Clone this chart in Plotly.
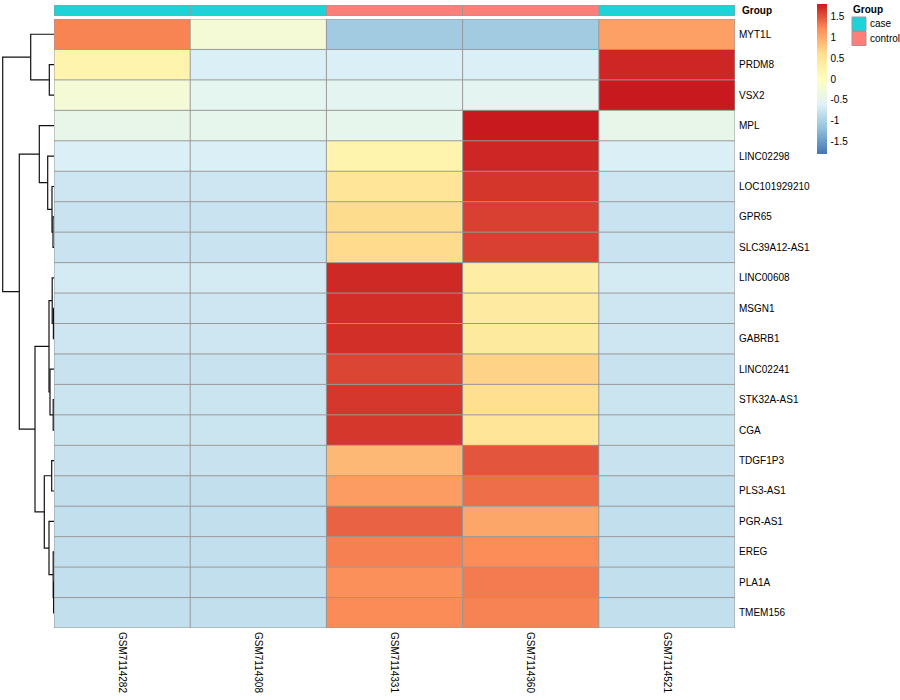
import plotly.graph_objects as go

W, H = 900, 700

samples = ["GSM7114282", "GSM7114308", "GSM7114331", "GSM7114360", "GSM7114521"]
groups = ["case", "case", "control", "control", "case"]
group_colors = {"case": "#1DD3DA", "control": "#FE7F79"}

genes = ["MYT1L", "PRDM8", "VSX2", "MPL", "LINC02298", "LOC101929210", "GPR65",
         "SLC39A12-AS1", "LINC00608", "MSGN1", "GABRB1", "LINC02241", "STK32A-AS1",
         "CGA", "TDGF1P3", "PLS3-AS1", "PGR-AS1", "EREG", "PLA1A", "TMEM156"]

z_MYT1L = [1.24, -0.23, -1.065, -1.065, 1.056]
z_PRDM8 = [0.22, -0.64, -0.64, -0.64, 1.727]
z_VSX2 = [-0.23, -0.5, -0.52, -0.52, 1.789]
z_MPL = [-0.45, -0.47, -0.47, 1.789, -0.45]
z_LINC02298 = [-0.64, -0.64, 0.22, 1.727, -0.64]
z_LOC101929210 = [-0.74, -0.74, 0.5, 1.644, -0.74]
z_GPR65 = [-0.77, -0.77, 0.625, 1.59, -0.77]
z_SLC39A12_AS1 = [-0.77, -0.77, 0.63, 1.59, -0.77]
z_LINC00608 = [-0.69, -0.69, 1.71, 0.327, -0.69]
z_MSGN1 = [-0.74, -0.74, 1.685, 0.385, -0.74]
z_GABRB1 = [-0.74, -0.74, 1.68, 0.40, -0.74]
z_LINC02241 = [-0.78, -0.78, 1.566, 0.697, -0.78]
z_STK32A_AS1 = [-0.76, -0.76, 1.64, 0.596, -0.76]
z_CGA = [-0.76, -0.76, 1.64, 0.5, -0.76]
z_TDGF1P3 = [-0.78, -0.78, 0.884, 1.483, -0.78]
z_PLS3_AS1 = [-0.82, -0.82, 1.085, 1.354, -0.82]
z_PGR_AS1 = [-0.82, -0.82, 1.416, 1.013, -0.82]
z_EREG = [-0.82, -0.82, 1.26, 1.19, -0.82]
z_PLA1A = [-0.82, -0.82, 1.17, 1.286, -0.82]
z_TMEM156 = [-0.82, -0.82, 1.20, 1.25, -0.82]

Z = [z_MYT1L, z_PRDM8, z_VSX2, z_MPL, z_LINC02298, z_LOC101929210, z_GPR65,
     z_SLC39A12_AS1, z_LINC00608, z_MSGN1, z_GABRB1, z_LINC02241, z_STK32A_AS1,
     z_CGA, z_TDGF1P3, z_PLS3_AS1, z_PGR_AS1, z_EREG, z_PLA1A, z_TMEM156]

# row dendrogram merges (left, right, height); ids >= 20 refer to earlier merges
merges = [
    (6, 7, 1.0), (5, 20, 2.0), (4, 21, 6.3), (3, 22, 14.7),
    (9, 10, 0.6), (8, 24, 1.8), (12, 13, 0.8), (11, 26, 4.0), (25, 27, 5.0),
    (14, 15, 2.3), (18, 19, 0.4), (17, 30, 0.8), (16, 31, 5.0), (29, 32, 9.7),
    (28, 33, 19.0), (23, 34, 34.7), (1, 2, 4.7), (0, 36, 23.3), (37, 35, 51.3),
]

cb_ticks = [-1.5, -1, -0.5, 0, 0.5, 1, 1.5]
zmin, zmax = -1.789, 1.789

colorscale = [
    [0 / 6, "#4575B4"], [1 / 6, "#91BFDB"], [2 / 6, "#E0F3F8"], [3 / 6, "#FFFFBF"],
    [4 / 6, "#FEE090"], [5 / 6, "#FC8D59"], [6 / 6, "#C81A1E"],
]

px_x = lambda p: p / W
px_y = lambda p: 1 - p / H

hm_x0, hm_x1 = 54, 735
hm_y0, hm_y1 = 19, 628
grp_y0, grp_y1 = 5, 16

fig = go.Figure()

fig.add_trace(go.Heatmap(
    z=Z, x=list(range(len(samples))), y=list(range(len(genes))),
    colorscale=colorscale, zmin=zmin, zmax=zmax, hoverinfo="skip",
    xaxis="x", yaxis="y",
    colorbar=dict(
        x=px_x(817), xanchor="left", y=px_y(4), yanchor="top",
        len=150, lenmode="pixels", thickness=10, thicknessmode="pixels",
        xpad=0, ypad=0, outlinewidth=0, borderwidth=0,
        tickvals=cb_ticks, ticktext=[("%g" % t) for t in cb_ticks],
        ticks="outside", ticklen=2, tickcolor="rgba(0,0,0,0)",
        tickfont=dict(size=10, color="black"),
    ),
))

gcodes = [0 if g == "case" else 1 for g in groups]
fig.add_trace(go.Heatmap(
    z=[gcodes], x=list(range(len(samples))), y=[0],
    colorscale=[[0, group_colors["case"]], [0.5, group_colors["case"]],
                [0.5, group_colors["control"]], [1, group_colors["control"]]],
    zmin=0, zmax=1, showscale=False, hoverinfo="skip",
    xaxis="x2", yaxis="y2",
))

# dendrogram
n = len(genes)
node_y = {i: float(i) for i in range(n)}
node_h = {i: 0.0 for i in range(n)}
dx, dy = [], []
for k, (a, b, h) in enumerate(merges):
    nid = n + k
    ya, yb = node_y[a], node_y[b]
    dx += [node_h[a], h, h, node_h[b], None]
    dy += [ya, ya, yb, yb, None]
    node_y[nid] = (ya + yb) / 2
    node_h[nid] = h
fig.add_trace(go.Scatter(x=dx, y=dy, mode="lines", line=dict(color="#111111", width=1.2),
                         hoverinfo="skip", xaxis="x3", yaxis="y3", showlegend=False))

shapes = []
border = "#999999"
for i in range(len(samples) + 1):
    shapes.append(dict(type="line", xref="x", yref="y", x0=i - 0.5, x1=i - 0.5,
                       y0=-0.5, y1=n - 0.5, line=dict(color=border, width=1)))
    shapes.append(dict(type="line", xref="x2", yref="y2", x0=i - 0.5, x1=i - 0.5,
                       y0=-0.5, y1=0.5, line=dict(color=border, width=1)))
for j in range(n + 1):
    shapes.append(dict(type="line", xref="x", yref="y", x0=-0.5, x1=len(samples) - 0.5,
                       y0=j - 0.5, y1=j - 0.5, line=dict(color=border, width=1)))
for j in range(2):
    shapes.append(dict(type="line", xref="x2", yref="y2", x0=-0.5, x1=len(samples) - 0.5,
                       y0=j - 0.5, y1=j - 0.5, line=dict(color=border, width=1)))

# group legend
annotations = [
    dict(text="<b>Group</b>", x=px_x(740), y=px_y(11), xref="paper", yref="paper",
         xanchor="left", yanchor="middle", showarrow=False, font=dict(size=10, color="black")),
    dict(text="<b>Group</b>", x=px_x(851), y=px_y(10), xref="paper", yref="paper",
         xanchor="left", yanchor="middle", showarrow=False, font=dict(size=10, color="black")),
]
for k, g in enumerate(["case", "control"]):
    top = 17 + 14.5 * k
    shapes.append(dict(type="rect", xref="paper", yref="paper",
                       x0=px_x(852), x1=px_x(866), y0=px_y(top), y1=px_y(top + 14),
                       fillcolor=group_colors[g], line=dict(color="#999999", width=1)))
    annotations.append(dict(text=g, x=px_x(868), y=px_y(top + 7), xref="paper", yref="paper",
                            xanchor="left", yanchor="middle", showarrow=False,
                            font=dict(size=10, color="black")))

fig.update_layout(
    width=W, height=H, autosize=False,
    margin=dict(l=0, r=0, t=0, b=0, autoexpand=False),
    paper_bgcolor="white", plot_bgcolor="white",
    font=dict(family="Liberation Sans, Arial, sans-serif", size=10, color="black"),
    showlegend=False,
    shapes=shapes, annotations=annotations,
    xaxis=dict(domain=[px_x(hm_x0), px_x(hm_x1)], range=[-0.5, len(samples) - 0.5],
               tickvals=list(range(len(samples))), ticktext=samples, tickangle=90,
               ticks="", ticklabelstandoff=3, showgrid=False, zeroline=False, showline=False,
               anchor="y", automargin=False, tickfont=dict(size=10, color="black")),
    yaxis=dict(domain=[px_y(hm_y1), px_y(hm_y0)], range=[n - 0.5, -0.5],
               tickvals=list(range(n)), ticktext=genes, side="right", ticks="",
               ticklabelstandoff=3, showgrid=False, zeroline=False, showline=False,
               anchor="x", automargin=False, tickfont=dict(size=10, color="black")),
    xaxis2=dict(domain=[px_x(hm_x0), px_x(hm_x1)], range=[-0.5, len(samples) - 0.5],
                showticklabels=False, ticks="", showgrid=False, zeroline=False,
                anchor="y2", automargin=False),
    yaxis2=dict(domain=[px_y(grp_y1), px_y(grp_y0)], range=[-0.5, 0.5],
                showticklabels=False, ticks="", showgrid=False, zeroline=False,
                anchor="x2", automargin=False),
    xaxis3=dict(domain=[0, px_x(hm_x0)], range=[hm_x0, 0], visible=False, anchor="y3",
                automargin=False),
    yaxis3=dict(domain=[px_y(hm_y1), px_y(hm_y0)], range=[n - 0.5, -0.5],
                visible=False, anchor="x3", automargin=False),
)

fig.write_html("out.html", config={"displayModeBar": False},
               post_script="document.body.style.margin='0px';")
